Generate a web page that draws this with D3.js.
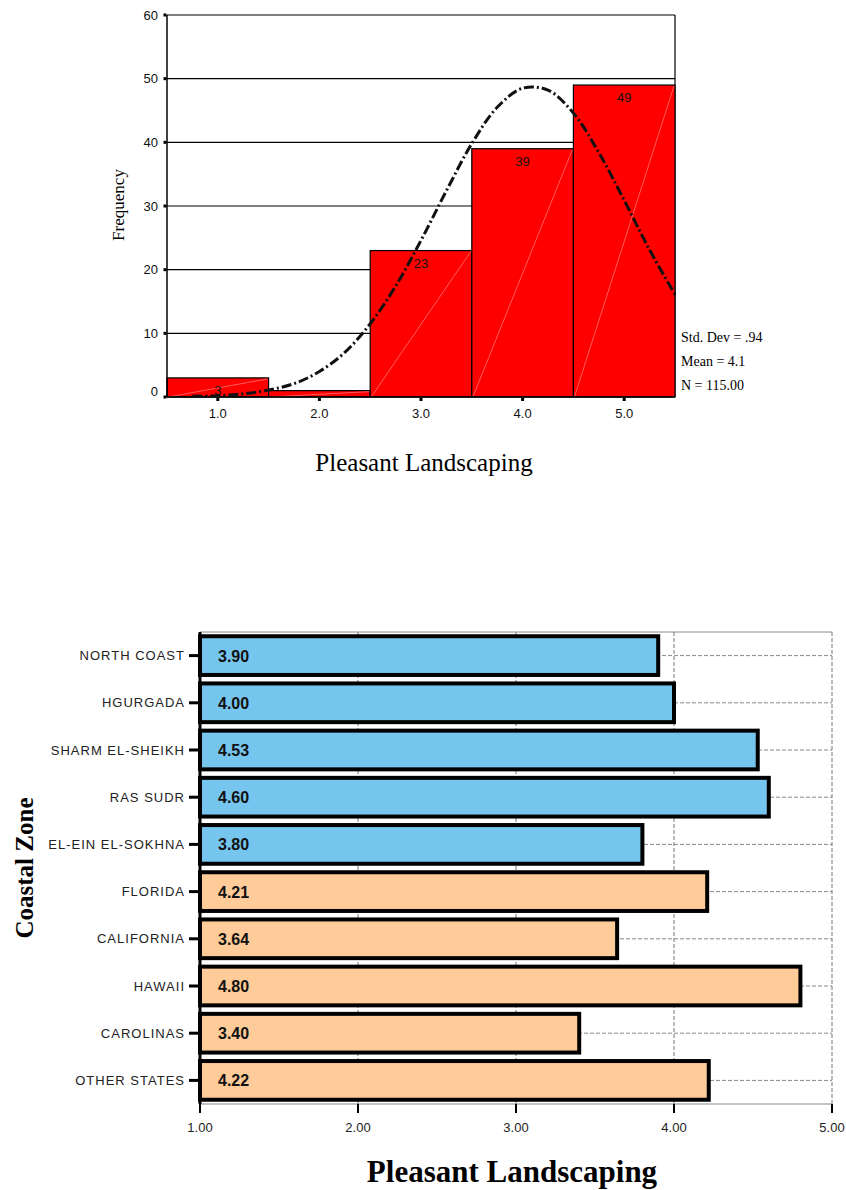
<!DOCTYPE html>
<html><head><meta charset="utf-8">
<script src="https://cdn.jsdelivr.net/npm/d3@7"></script>
<style>body{margin:0;background:#fff}svg{display:block}</style>
</head><body>
<svg id="c" width="846" height="1190"></svg>
<script>
// ---- Histogram data ----
const histBins = [1, 2, 3, 4, 5];
const histFreq = [3, 1, 23, 39, 49];
const histLabels = ["3", "", "23", "39", "49"];
const histYTicks = [0, 10, 20, 30, 40, 50, 60];
const histXTickLabels = ["1.0", "2.0", "3.0", "4.0", "5.0"];
// normal curve points
const curveX = [0.75, 1.0, 1.25, 1.5, 1.75, 2.0, 2.25, 2.5, 2.75, 3.0, 3.25, 3.5, 3.75, 4.0, 4.25, 4.5, 4.75, 5.0, 5.25, 5.5];
const curveY = [0.1, 0.2, 0.5, 1.1, 2.1, 4.0, 7.0, 11.5, 17.4, 24.6, 32.4, 39.8, 45.5, 48.5, 48.2, 44.6, 38.4, 30.9, 23.1, 16.1];
const histStats = ["Std. Dev = .94", "Mean = 4.1", "N = 115.00"];
const histXTitle = "Pleasant Landscaping";
const histYTitle = "Frequency";

// ---- Bar chart data ----
const zones = ["NORTH COAST", "HGURGADA", "SHARM EL-SHEIKH", "RAS SUDR", "EL-EIN EL-SOKHNA", "FLORIDA", "CALIFORNIA", "HAWAII", "CAROLINAS", "OTHER STATES"];
const zoneMeans = [3.90, 4.00, 4.53, 4.60, 3.80, 4.21, 3.64, 4.80, 3.40, 4.22];
const zoneRegion = ["Egypt", "Egypt", "Egypt", "Egypt", "Egypt", "USA", "USA", "USA", "USA", "USA"];
const barXTicks = [1, 2, 3, 4, 5];
const barXTitle = "Pleasant Landscaping";
const barYTitle = "Coastal Zone";

const svg = d3.select("#c");
const SANS = "'Liberation Sans', Arial, sans-serif";
const SERIF = "'Liberation Serif', 'Times New Roman', serif";

// ================= HISTOGRAM =================
const hx = d3.scaleLinear().domain([0.5, 5.5]).range([167, 675]);
const hy = d3.scaleLinear().domain([0, 60]).range([397, 15]);
const g1 = svg.append("g");

// gridlines
g1.selectAll("line.grid").data(histYTicks.filter(t => t > 0)).join("line")
  .attr("x1", hx(0.5)).attr("x2", hx(5.5))
  .attr("y1", d => hy(d)).attr("y2", d => hy(d))
  .attr("stroke", "#000").attr("stroke-width", 1.2);
// right border
g1.append("line").attr("x1", hx(5.5)).attr("x2", hx(5.5)).attr("y1", hy(60)).attr("y2", hy(0))
  .attr("stroke", "#000").attr("stroke-width", 1.2);

// bars
const histData = histBins.map((b, i) => ({b, f: histFreq[i], l: histLabels[i]}));
g1.selectAll("rect.bar").data(histData).join("rect")
  .attr("x", d => hx(d.b - 0.5)).attr("width", d => hx(d.b + 0.5) - hx(d.b - 0.5))
  .attr("y", d => hy(d.f)).attr("height", d => hy(0) - hy(d.f))
  .attr("fill", "#ff0000").attr("stroke", "#000").attr("stroke-width", 1.2);
g1.selectAll("line.diag").data(histData).join("line")
  .attr("x1", d => hx(d.b - 0.5) + 1).attr("y1", hy(0))
  .attr("x2", d => hx(d.b + 0.5) - 1).attr("y2", d => hy(d.f) + 1)
  .attr("stroke", "#ff9a9a").attr("stroke-width", 0.6);

// axes lines
g1.append("line").attr("x1", hx(0.5)).attr("x2", hx(0.5)).attr("y1", hy(60)).attr("y2", hy(0))
  .attr("stroke", "#000").attr("stroke-width", 1.5);
g1.append("line").attr("x1", hx(0.5)).attr("x2", hx(5.5)).attr("y1", hy(0)).attr("y2", hy(0))
  .attr("stroke", "#000").attr("stroke-width", 1.5);

// normal curve
const curvePts = curveX.map((x, i) => [x, curveY[i]]);
g1.append("path").datum(curvePts)
  .attr("d", d3.line().x(d => hx(d[0])).y(d => hy(d[1])).curve(d3.curveCatmullRom))
  .attr("fill", "none").attr("stroke", "#111").attr("stroke-width", 3)
  .attr("stroke-dasharray", "10,3,2,3");

// bar labels
g1.selectAll("text.blab").data(histData).join("text")
  .attr("x", d => hx(d.b)).attr("y", d => hy(d.f) + 17)
  .attr("text-anchor", "middle").attr("font-family", SANS).attr("font-size", 13)
  .attr("fill", "#111").text(d => d.l);

// y ticks
g1.selectAll("rect.yt").data(histYTicks).join("rect")
  .attr("x", hx(0.5) - 3.5).attr("y", d => hy(d) - 1.5).attr("width", 3).attr("height", 3).attr("fill", "#000");
g1.selectAll("text.ytl").data(histYTicks).join("text")
  .attr("x", 158).attr("y", d => hy(d) + 4.5 - (d === 0 ? 6 : 0))
  .attr("text-anchor", "end").attr("font-family", SANS).attr("font-size", 13).attr("fill", "#111")
  .text(d => d);
// x ticks
g1.selectAll("rect.xt").data(histBins).join("rect")
  .attr("x", d => hx(d) - 1.5).attr("y", hy(0) + 1).attr("width", 3).attr("height", 3).attr("fill", "#000");
g1.selectAll("text.xtl").data(histBins).join("text")
  .attr("x", d => hx(d)).attr("y", 418)
  .attr("text-anchor", "middle").attr("font-family", SANS).attr("font-size", 13).attr("fill", "#111")
  .text((d, i) => histXTickLabels[i]);

// titles
g1.append("text").attr("x", 424).attr("y", 471).attr("text-anchor", "middle")
  .attr("font-family", SERIF).attr("font-size", 25).attr("fill", "#000").text(histXTitle);
g1.append("text").attr("transform", "translate(124,205) rotate(-90)").attr("text-anchor", "middle")
  .attr("font-family", SERIF).attr("font-size", 17).attr("fill", "#000").text(histYTitle);
// stats
g1.selectAll("text.stat").data(histStats).join("text")
  .attr("x", 681).attr("y", (d, i) => 342 + i * 24)
  .attr("font-family", SERIF).attr("font-size", 14).attr("fill", "#000").text(d => d);

// ================= BAR CHART =================
const bx = d3.scaleLinear().domain([1, 5]).range([200, 832]);
const by = d3.scaleBand().domain(zones).range([632, 1104]).paddingInner(0.18).paddingOuter(0.09);
const regionColor = d3.scaleOrdinal().domain(["Egypt", "USA"]).range(["#75c5ee", "#ffcc99"]);
const g2 = svg.append("g");

// grid
g2.append("line").attr("x1", bx(1)).attr("x2", bx(5)).attr("y1", 632).attr("y2", 632)
  .attr("stroke", "#888").attr("stroke-width", 1);
g2.selectAll("line.vg").data(barXTicks.filter(t => t > 1)).join("line")
  .attr("x1", d => bx(d)).attr("x2", d => bx(d)).attr("y1", 632).attr("y2", 1104)
  .attr("stroke", "#777").attr("stroke-width", 1).attr("stroke-dasharray", "4,2");
g2.selectAll("line.hg").data(zones).join("line")
  .attr("x1", bx(1)).attr("x2", bx(5))
  .attr("y1", d => by(d) + by.bandwidth() / 2).attr("y2", d => by(d) + by.bandwidth() / 2)
  .attr("stroke", "#888").attr("stroke-width", 1).attr("stroke-dasharray", "4,2");
g2.append("line").attr("x1", bx(1)).attr("x2", bx(5)).attr("y1", 1104).attr("y2", 1104)
  .attr("stroke", "#888").attr("stroke-width", 1);

// bars
const barData = zones.map((z, i) => ({z, v: zoneMeans[i], r: zoneRegion[i]}));
g2.selectAll("rect.b").data(barData).join("rect")
  .attr("x", bx(1)).attr("width", d => bx(d.v) - bx(1))
  .attr("y", d => by(d.z)).attr("height", by.bandwidth())
  .attr("fill", d => regionColor(d.r)).attr("stroke", "#000").attr("stroke-width", 4);
g2.selectAll("text.v").data(barData).join("text")
  .attr("x", 218).attr("y", d => by(d.z) + by.bandwidth() / 2 + 6)
  .attr("font-family", SANS).attr("font-weight", "bold").attr("font-size", 16).attr("fill", "#111")
  .text(d => d.v.toFixed(2));

// left axis
g2.append("line").attr("x1", bx(1)).attr("x2", bx(1)).attr("y1", 632).attr("y2", 1104)
  .attr("stroke", "#000").attr("stroke-width", 3);
g2.selectAll("line.yt").data(zones).join("line")
  .attr("x1", 189).attr("x2", 200)
  .attr("y1", d => by(d) + by.bandwidth() / 2).attr("y2", d => by(d) + by.bandwidth() / 2)
  .attr("stroke", "#000").attr("stroke-width", 3);
g2.selectAll("text.yl").data(zones).join("text")
  .attr("x", 185).attr("y", d => by(d) + by.bandwidth() / 2 + 4.5)
  .attr("text-anchor", "end").attr("font-family", SANS).attr("font-size", 13)
  .attr("letter-spacing", 1).attr("fill", "#222").text(d => d);

// bottom ticks
g2.selectAll("line.xt").data(barXTicks).join("line")
  .attr("x1", d => bx(d)).attr("x2", d => bx(d)).attr("y1", 1104).attr("y2", 1113)
  .attr("stroke", "#000").attr("stroke-width", 2);
g2.selectAll("text.xl").data(barXTicks).join("text")
  .attr("x", d => bx(d)).attr("y", 1132).attr("text-anchor", "middle")
  .attr("font-family", SANS).attr("font-size", 13).attr("fill", "#222")
  .text(d => d.toFixed(2));

// titles
g2.append("text").attr("x", 512).attr("y", 1182).attr("text-anchor", "middle")
  .attr("font-family", SERIF).attr("font-weight", "bold").attr("font-size", 31).attr("fill", "#000")
  .text(barXTitle);
g2.append("text").attr("transform", "translate(33,868) rotate(-90)").attr("text-anchor", "middle")
  .attr("font-family", SERIF).attr("font-weight", "bold").attr("font-size", 25).attr("fill", "#000")
  .text(barYTitle);
</script>
</body></html>
